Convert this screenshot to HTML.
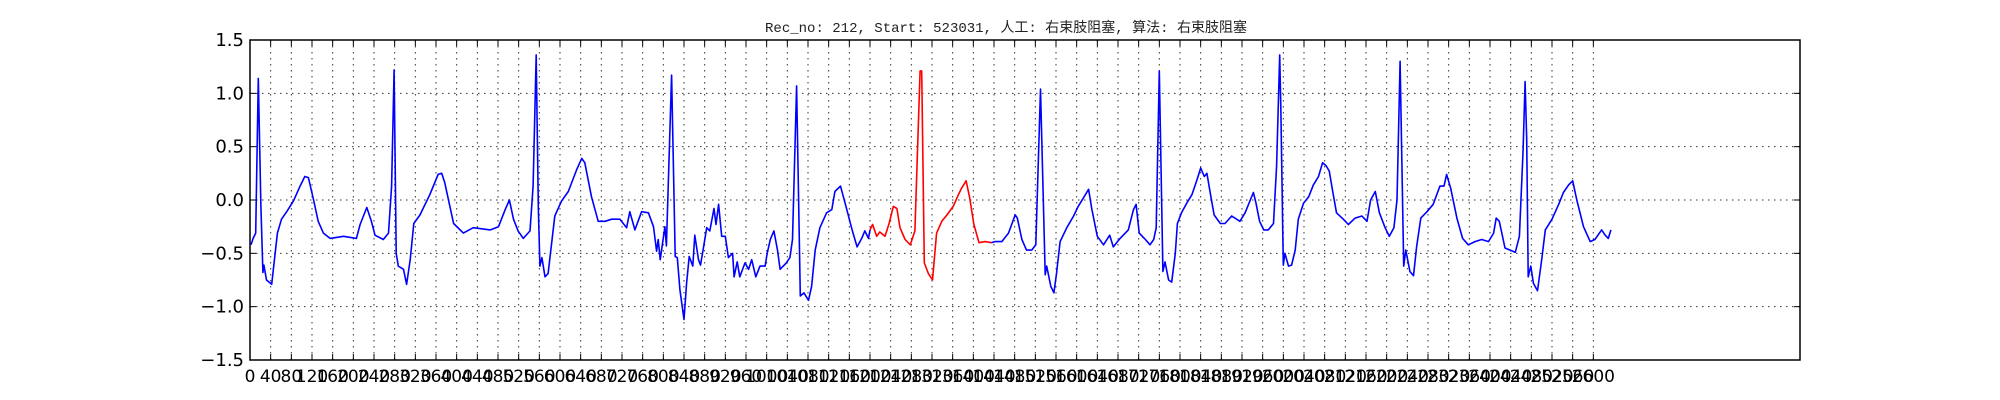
<!DOCTYPE html>
<html><head><meta charset="utf-8"><style>
html,body{margin:0;padding:0;background:#fff;}
svg{display:block;font-family:"DejaVu Sans","Liberation Sans",sans-serif;}
</style></head><body>
<svg id="chart" width="2000" height="400" viewBox="0 0 2000 400" xmlns="http://www.w3.org/2000/svg">
<rect x="0" y="0" width="2000" height="400" fill="#fff"/>
<text x="1006" y="32" text-anchor="middle" font-size="14" textLength="482" lengthAdjust="spacingAndGlyphs" font-family="'Liberation Mono','WenQuanYi Zen Hei',monospace" fill="#222">Rec_no: 212, Start: 523031, 人工: 右束肢阻塞, 算法: 右束肢阻塞</text>
<g id="grid"></g>
<g id="series"></g>
<rect x="250" y="40" width="1550" height="320" fill="none" stroke="#000" stroke-width="1.5"/>
<g id="axes"></g>
</svg>
<script>
const sampleIdx = [2,6,11,16,21,25,27,32,42,53,61,71,84,97,106,113,123,132,142,155,181,206,213,226,235,242,258,268,274,279,283,287,297,303,310,317,329,348,364,371,377,394,413,432,465,481,494,502,510,519,529,542,548,554,558,561,565,571,577,590,603,616,632,642,648,661,674,687,700,716,729,735,745,758,771,781,787,790,794,803,806,816,823,827,832,840,845,850,857,861,868,872,878,884,890,898,902,907,913,920,926,934,937,943,948,958,965,971,979,987,997,1001,1007,1014,1021,1026,1038,1045,1050,1058,1065,1072,1081,1087,1094,1103,1116,1126,1132,1143,1155,1166,1175,1184,1190,1197,1200,1205,1213,1219,1229,1237,1245,1252,1258,1268,1278,1287,1297,1300,1305,1313,1321,1329,1339,1349,1361,1371,1377,1386,1393,1401,1411,1423,1435,1442,1455,1468,1481,1485,1494,1503,1513,1521,1530,1539,1542,1550,1556,1561,1568,1581,1594,1603,1613,1623,1629,1640,1652,1664,1671,1684,1700,1710,1715,1721,1733,1742,1749,1754,1760,1767,1771,1778,1784,1791,1795,1803,1813,1823,1833,1840,1847,1852,1858,1866,1878,1887,1900,1916,1926,1936,1942,1947,1954,1962,1971,1981,1987,1993,1995,2000,2003,2010,2016,2023,2029,2039,2049,2058,2068,2076,2083,2089,2096,2103,2116,2126,2139,2152,2162,2169,2178,2186,2197,2205,2214,2220,2226,2233,2237,2245,2252,2258,2266,2278,2290,2303,2311,2316,2324,2336,2347,2358,2371,2384,2397,2407,2412,2418,2429,2439,2449,2457,2464,2468,2471,2474,2479,2484,2492,2500,2507,2520,2533,2542,2552,2560,2568,2581,2594,2603,2616,2623,2629,2634];
const ecgValues = [-0.42,-0.36,-0.31,1.14,-0.06,-0.68,-0.61,-0.75,-0.79,-0.31,-0.18,-0.11,-0.01,0.13,0.22,0.21,0,-0.2,-0.31,-0.36,-0.34,-0.36,-0.23,-0.07,-0.2,-0.33,-0.37,-0.31,0.13,1.22,-0.5,-0.62,-0.65,-0.79,-0.56,-0.22,-0.14,0.05,0.24,0.25,0.16,-0.22,-0.31,-0.26,-0.28,-0.25,-0.09,0,-0.18,-0.29,-0.36,-0.29,0.13,1.36,-0.06,-0.62,-0.54,-0.72,-0.69,-0.15,-0.01,0.08,0.28,0.39,0.35,0.03,-0.2,-0.2,-0.18,-0.18,-0.26,-0.11,-0.28,-0.11,-0.12,-0.25,-0.48,-0.37,-0.56,-0.25,-0.43,1.17,-0.53,-0.54,-0.84,-1.12,-0.78,-0.53,-0.62,-0.33,-0.56,-0.61,-0.44,-0.26,-0.29,-0.08,-0.23,-0.04,-0.34,-0.34,-0.54,-0.5,-0.72,-0.58,-0.72,-0.59,-0.65,-0.56,-0.72,-0.62,-0.62,-0.5,-0.37,-0.29,-0.47,-0.65,-0.59,-0.54,-0.37,1.07,-0.9,-0.87,-0.94,-0.81,-0.47,-0.26,-0.12,-0.09,0.08,0.13,-0.09,-0.29,-0.44,-0.36,-0.29,-0.36,-0.28,-0.23,-0.34,-0.3,-0.34,-0.22,-0.06,-0.08,-0.26,-0.37,-0.42,-0.29,1.21,1.21,-0.59,-0.69,-0.75,-0.31,-0.2,-0.14,-0.06,0.05,0.11,0.18,0.02,-0.23,-0.4,-0.39,-0.4,-0.39,-0.39,-0.31,-0.14,-0.17,-0.37,-0.47,-0.47,-0.42,1.04,-0.7,-0.62,-0.81,-0.87,-0.69,-0.39,-0.26,-0.15,-0.06,0.02,0.1,-0.08,-0.34,-0.42,-0.33,-0.44,-0.36,-0.28,-0.09,-0.04,-0.31,-0.37,-0.42,-0.37,-0.26,1.21,-0.67,-0.58,-0.75,-0.77,-0.5,-0.22,-0.12,-0.03,0.05,0.19,0.3,0.22,0.25,0.08,-0.14,-0.22,-0.22,-0.15,-0.2,-0.12,0,0.07,-0.03,-0.2,-0.28,-0.28,-0.22,0.32,1.36,0.88,-0.61,-0.5,-0.62,-0.61,-0.47,-0.18,-0.03,0.03,0.14,0.22,0.35,0.32,0.27,0.07,-0.12,-0.18,-0.23,-0.17,-0.15,-0.2,0,0.08,-0.12,-0.26,-0.34,-0.26,0,1.3,-0.62,-0.47,-0.67,-0.71,-0.44,-0.17,-0.11,-0.04,0.13,0.13,0.24,0.11,-0.17,-0.36,-0.42,-0.39,-0.37,-0.39,-0.31,-0.17,-0.2,-0.45,-0.47,-0.49,-0.34,0.47,1.11,0.57,-0.72,-0.62,-0.78,-0.85,-0.56,-0.28,-0.18,-0.04,0.07,0.14,0.18,0,-0.25,-0.39,-0.37,-0.28,-0.33,-0.36,-0.28];
const highlightRange = [1200, 1435];
const xTicks = [];
for (let t = 0; t <= 2600; t += 40) xTicks.push(t);
const yTicks = [-1.5,-1.0,-0.5,0.0,0.5,1.0,1.5];
const yTickLabels = ["\u22121.5","\u22121.0","\u22120.5","0.0","0.5","1.0","1.5"];

const NS = "http://www.w3.org/2000/svg";
const L = 250, R = 1800, T = 40, B = 360, XMAX = 3000, YMIN = -1.5, YMAX = 1.5;
const xs = v => L + v / XMAX * (R - L);
const ys = v => B - (v - YMIN) / (YMAX - YMIN) * (B - T);
function mk(tag, attrs, parent) { const e = document.createElementNS(NS, tag); for (const k in attrs) e.setAttribute(k, attrs[k]); parent.appendChild(e); return e; }
const grid = document.getElementById('grid'), axes = document.getElementById('axes'), series = document.getElementById('series');

xTicks.forEach(t => {
  const x = xs(t);
  const g = mk('line', {x1: x, x2: x, y1: T, y2: B, stroke: '#000', 'stroke-width': 1, 'stroke-dasharray': '1.5,4.5', opacity: 0.8}, grid);
  
  
  const tk = mk('line', {x1: x, x2: x, y1: B, y2: B - 6, stroke: '#000', 'stroke-width': 1}, axes);
  
  
  const tk2 = mk('line', {x1: x, x2: x, y1: T, y2: T + 6, stroke: '#000', 'stroke-width': 1}, axes);
  
  
  const lb = mk('text', {x: x, y: 382, 'text-anchor': 'middle', 'font-size': 17, fill: '#000'}, axes);
  lb.textContent = String(t);
  
  
});
yTicks.forEach((t, i) => {
  const y = ys(t);
  if (t > YMIN && t < YMAX) {
    const g = mk('line', {x1: L, x2: R, y1: y, y2: y, stroke: '#000', 'stroke-width': 1, 'stroke-dasharray': '1.5,4.5', opacity: 0.8}, grid);
    
    
  }
  const tk = mk('line', {x1: L, x2: L + 6, y1: y, y2: y, stroke: '#000'}, axes);
  
  
  const tk2 = mk('line', {x1: R, x2: R - 6, y1: y, y2: y, stroke: '#000'}, axes);
  
  
  const lb = mk('text', {x: 244, y: y + 6, 'text-anchor': 'end', 'font-size': 18, fill: '#000'}, axes);
  lb.textContent = yTickLabels[i];
  
  
});

const segs = [[], [], []];
sampleIdx.forEach((s, i) => {
  const p = xs(s).toFixed(1) + ',' + ys(ecgValues[i]).toFixed(1);
  if (s <= highlightRange[0]) segs[0].push(p);
  if (s >= highlightRange[0] && s <= highlightRange[1]) segs[1].push(p);
  if (s >= highlightRange[1]) segs[2].push(p);
});
[['#0000ff', 'ecg-line-before'], ['#ff0000', 'ecg-line-highlight'], ['#0000ff', 'ecg-line-after']].forEach((c, k) => {
  const pl = mk('polyline', {points: segs[k].join(' '), fill: 'none', stroke: c[0], 'stroke-width': 1.6, 'stroke-linejoin': 'round'}, series);
  
  
});
</script>
</body></html>
